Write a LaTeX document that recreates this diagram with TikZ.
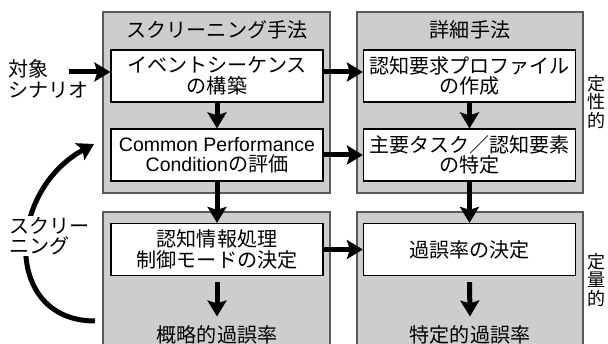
\documentclass[tikz,border=0pt]{standalone}
\usepackage{fontspec}
\setmainfont{Liberation Sans}
\newfontfamily\jp[Scale=1.03]{Noto Sans CJK JP}
\usetikzlibrary{arrows.meta}
\definecolor{panelgray}{HTML}{CDCDCD}
\definecolor{paneledge}{HTML}{5A5A5A}
\tikzset{
  panel/.style={fill=panelgray,draw=paneledge,line width=1.3pt},
  wbox/.style={draw=black,fill=white,line width=1.2pt,minimum width=212pt,minimum height=52pt,align=center,inner sep=0pt,font=\fontsize{19.5}{20.5}\selectfont},
  lbl/.style={align=center,inner sep=0pt,font=\fontsize{19.5}{20.5}\selectfont},
  vlbl/.style={align=center,inner sep=0pt,font=\fontsize{17.5}{18.5}\selectfont},
  arr/.style={line width=5pt,-{Stealth[length=16pt,width=19pt,inset=3pt]}},
}
\begin{document}
\begin{tikzpicture}[x=1pt,y=-1pt]
\useasboundingbox (0,0) rectangle (608,344);
% panels
\draw[panel] (103,12) rectangle (330,193);
\draw[panel] (103,212) rectangle (330,352);
\draw[panel] (357,12) rectangle (583,193);
\draw[panel] (357,212) rectangle (583,352);
% titles
\node[lbl] (t1) at (217,30) {\jp スクリーニング手法};
\node[lbl] (t2) at (470,30) {\jp 詳細手法};
% boxes
\node[wbox] (b1) at (217,76) {\jp イベントシーケンス\\\jp の構築};
\node[wbox] (b2) at (217,155) {Common Performance\\Condition{\jp の評価}};
\node[wbox] (b3) at (217,249.5) {\jp 認知情報処理\\\jp 制御モードの決定};
\node[wbox] (r1) at (469.5,76) {\jp 認知要求プロファイル\\\jp の作成};
\node[wbox] (r2) at (469.5,155) {\jp 主要タスク／認知要素\\\jp の特定};
\node[wbox] (r3) at (469.5,249.5) {\jp 過誤率の決定};
% bottom labels
\node[lbl] (o1) at (217,335) {\jp 概略的過誤率};
\node[lbl] (o2) at (470,335) {\jp 特定的過誤率};
% side labels
\node[lbl,anchor=west,align=left] (src) at (8,79) {\jp 対象\\\jp シナリオ};
\node[vlbl] (q1) at (597,102) {\jp 定\\\jp 性\\\jp 的};
\node[vlbl] (q2) at (597,280) {\jp 定\\\jp 量\\\jp 的};
% curved screening arrow
\coordinate (cb) at (95,321);
\coordinate (ct) at (94,144);
\draw[line width=5pt,-{Stealth[length=16pt,width=19pt,inset=3pt]}] (cb) .. controls (3,321) and (6,192) .. (ct);
\node[lbl,anchor=west,align=left,fill=white,inner sep=1pt] (scr) at (8,236) {\jp スクリー\\\jp ニング};
% arrows
\coordinate (srcend) at ([xshift=-41pt,yshift=4pt]b1.west);
\draw[arr] (srcend) -- ([yshift=4pt]b1.west);
\draw[arr] ([yshift=4pt]b1.east) -- ([yshift=4pt]r1.west);
\draw[arr] (b2.east) -- (r2.west);
\draw[arr] (b3.east) -- (r3.west);
\draw[arr] (b1.south) -- (b2.north);
\draw[arr] (b2.south) -- (b3.north);
\draw[arr] ([yshift=-6pt]b3.south) -- ([yshift=9pt]o1.north);
\draw[arr] (r1.south) -- (r2.north);
\draw[arr] (r2.south) -- (r3.north);
\draw[arr] ([yshift=-6pt]r3.south) -- ([yshift=9pt]o2.north);
\end{tikzpicture}
\end{document}
